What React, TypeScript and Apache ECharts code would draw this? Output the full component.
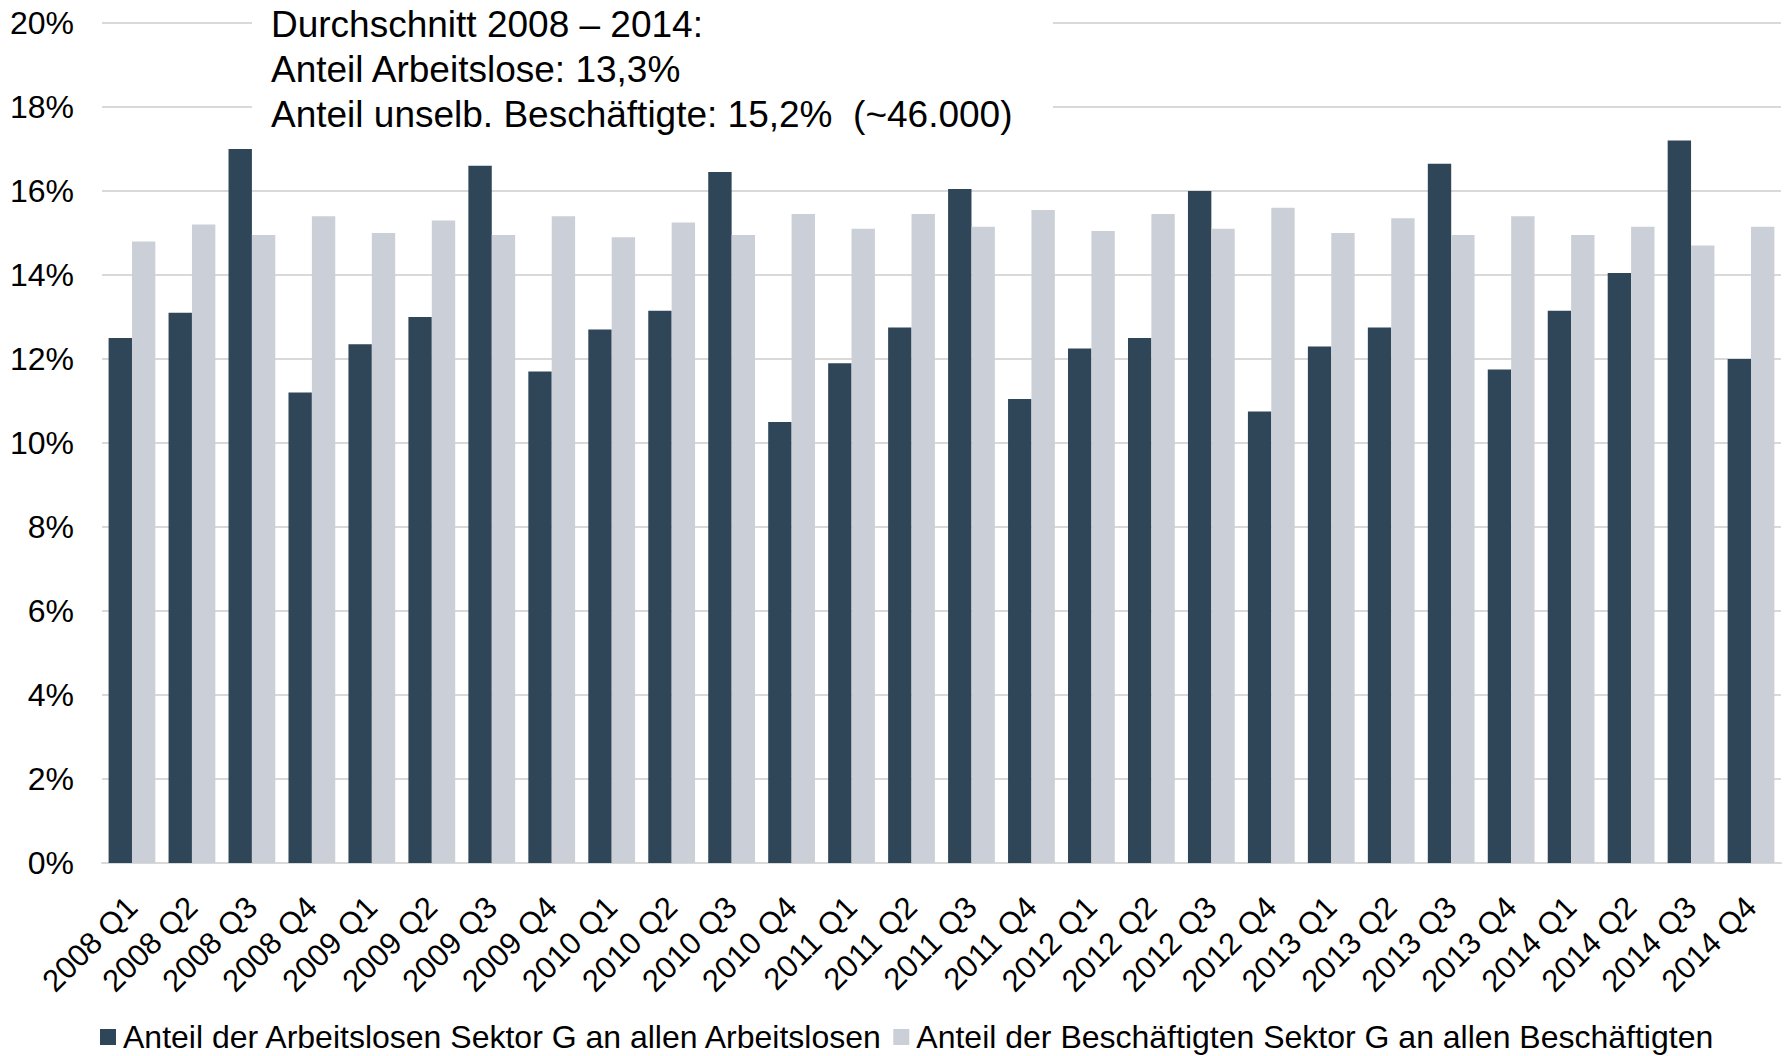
import React, { useEffect, useRef } from "react";
import * as echarts from "echarts";

const categories = [
  "2008 Q1", "2008 Q2", "2008 Q3", "2008 Q4",
  "2009 Q1", "2009 Q2", "2009 Q3", "2009 Q4",
  "2010 Q1", "2010 Q2", "2010 Q3", "2010 Q4",
  "2011 Q1", "2011 Q2", "2011 Q3", "2011 Q4",
  "2012 Q1", "2012 Q2", "2012 Q3", "2012 Q4",
  "2013 Q1", "2013 Q2", "2013 Q3", "2013 Q4",
  "2014 Q1", "2014 Q2", "2014 Q3", "2014 Q4",
];

const arbeitslose = [
  12.5, 13.1, 17.0, 11.2,
  12.35, 13.0, 16.6, 11.7,
  12.7, 13.15, 16.45, 10.5,
  11.9, 12.75, 16.05, 11.05,
  12.25, 12.5, 16.0, 10.75,
  12.3, 12.75, 16.65, 11.75,
  13.15, 14.05, 17.2, 12.0,
];

const beschaeftigte = [
  14.8, 15.2, 14.95, 15.4,
  15.0, 15.3, 14.95, 15.4,
  14.9, 15.25, 14.95, 15.45,
  15.1, 15.45, 15.15, 15.55,
  15.05, 15.45, 15.1, 15.6,
  15.0, 15.35, 14.95, 15.4,
  14.95, 15.15, 14.7, 15.15,
];

const seriesNames = [
  "Anteil der Arbeitslosen Sektor G an allen Arbeitslosen",
  "Anteil der Beschäftigten Sektor G an allen Beschäftigten",
];

const annotationLines = [
  "Durchschnitt 2008 – 2014:",
  "Anteil Arbeitslose: 13,3%",
  "Anteil unselb. Beschäftigte: 15,2%  (~46.000)",
];

const FONT = '"Liberation Sans", Arial, Helvetica, sans-serif';

export default function App() {
  const ref = useRef<HTMLDivElement>(null);

  useEffect(() => {
    if (!ref.current) return;
    const chart = echarts.init(ref.current, null, { renderer: "svg" });
    chart.setOption({
      animation: false,
      backgroundColor: "#ffffff",
      textStyle: { fontFamily: FONT },
      grid: { left: 102, right: 4, top: 23, bottom: 193, containLabel: false },
      legend: {
        data: seriesNames,
        left: 95,
        top: 1015,
        itemWidth: 16,
        itemHeight: 16,
        itemGap: 9,
        icon: "rect",
        textStyle: {
          fontSize: 32,
          lineHeight: 34,
          color: "#000",
          fontFamily: FONT,
          padding: [0, 0, 0, 2],
        },
      },
      xAxis: {
        type: "category",
        data: categories,
        axisLine: { show: true, lineStyle: { color: "#d9d9d9", width: 2 } },
        axisTick: { show: false },
        axisLabel: {
          rotate: 45,
          interval: 0,
          margin: 39,
          fontSize: 31,
          color: "#000",
          fontFamily: FONT,
        },
      },
      yAxis: {
        type: "value",
        min: 0,
        max: 20,
        interval: 2,
        axisLine: { show: false },
        axisTick: { show: false },
        splitLine: { lineStyle: { color: "#d9d9d9", width: 2 } },
        axisLabel: {
          formatter: "{value}%",
          margin: 28,
          fontSize: 32,
          color: "#000",
          fontFamily: FONT,
        },
      },
      series: [
        {
          name: seriesNames[0],
          type: "bar",
          data: arbeitslose,
          barGap: "0%",
          barCategoryGap: "22%",
          itemStyle: { color: "#2f4558" },
        },
        {
          name: seriesNames[1],
          type: "bar",
          data: beschaeftigte,
          itemStyle: { color: "#cbd0d8" },
        },
      ],
      graphic: [
        {
          type: "rect",
          left: 252,
          top: 0,
          shape: { width: 801, height: 140 },
          style: { fill: "#ffffff" },
          z: 100,
        },
        ...annotationLines.map((t, i) => ({
          type: "text",
          x: 271,
          y: 24.5 + i * 44.8,
          z: 101,
          style: {
            text: t,
            fill: "#000",
            font: `37px ${FONT}`,
            verticalAlign: "middle",
            align: "left",
          },
        })),
      ],
    });
    return () => chart.dispose();
  }, []);

  return (
    <div
      ref={ref}
      style={{ position: "fixed", left: 0, top: 0, width: 1785, height: 1056 }}
    />
  );
}
